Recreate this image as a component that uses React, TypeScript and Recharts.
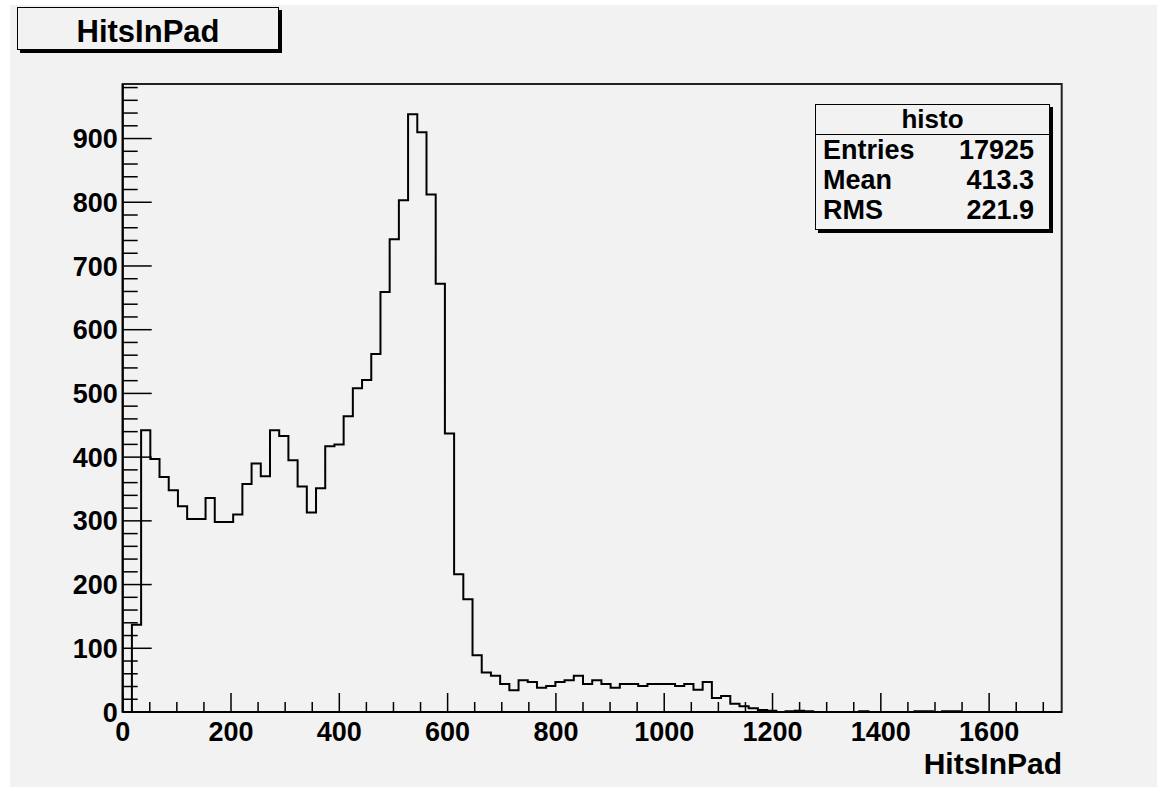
import React from "react";
import { ComposedChart, Line, XAxis, YAxis, ReferenceArea } from "recharts";

// histogram settings
const binWidth = 17;
const xMax = 1734;
const yMax = 985.6;

// counts per bin, bin i covers [i*17, (i+1)*17)
const counts = [
  0, 137, 442, 397, 369, 348, 323, 303, 303, 336,
  298, 298, 310, 358, 390, 370, 442, 433, 395, 354,
  313, 351, 417, 420, 464, 508, 521, 562, 659, 742,
  803, 938, 910, 812, 672, 437, 216, 177, 89, 62,
  57, 44, 34, 50, 47, 38, 41, 47, 50, 57,
  44, 50, 44, 38, 44, 44, 41, 44, 44, 44,
  41, 44, 35, 47, 22, 25, 13, 9, 6, 3,
  2, 0, 1, 2, 1, 0, 0, 0, 0, 0,
  1, 0, 0, 0, 0, 0, 1, 1, 0, 1,
  1, 0, 0, 0, 0, 0, 0, 0, 0, 0,
  0, 0,
];

const xMajor = 200;
const xMinor = 50;
const yMajor = 100;
const yMinor = 20;
const xTicks = Array.from({ length: 35 }, (_, i) => i * xMinor);
const yTicks = Array.from({ length: 50 }, (_, i) => i * yMinor);

const histTitle = "HitsInPad";
const axisTitle = "HitsInPad";
const statsName = "histo";
const statsRows = [
  ["Entries", "17925"],
  ["Mean", "413.3"],
  ["RMS", "221.9"],
];

const font = "'Liberation Sans', Arial, Helvetica, sans-serif";
const bg = "#f2f2f2";

const data = [
  ...counts.map((c, i) => ({ x: i * binWidth, count: c })),
  { x: xMax, count: 0 },
];

function XTick({ x, y, payload }: any) {
  const major = payload.value % xMajor === 0;
  return (
    <g>
      <line x1={x} x2={x} y1={y} y2={y - (major ? 19 : 10)} stroke="#000" strokeWidth={1.5} />
      {major && (
        <text x={x} y={y + 29} textAnchor="middle" fontSize={27} fontWeight={700} fontFamily={font} fill="#000">
          {payload.value}
        </text>
      )}
    </g>
  );
}

function YTick({ x, y, payload }: any) {
  const major = payload.value % yMajor === 0;
  return (
    <g>
      <line x1={x} x2={x + (major ? 29 : 15)} y1={y} y2={y} stroke="#000" strokeWidth={1.5} />
      {major && (
        <text x={x - 5} y={y + 9.6} textAnchor="end" fontSize={27} fontWeight={700} fontFamily={font} fill="#000">
          {payload.value}
        </text>
      )}
    </g>
  );
}

// absolutely placed text, top computed from wanted baseline
function Txt({ children, left, base, size, width, align = "left" }: any) {
  return (
    <div
      style={{
        position: "absolute",
        left,
        width,
        top: base - size * 0.8465,
        fontSize: size,
        lineHeight: `${size}px`,
        fontWeight: 700,
        fontFamily: font,
        textAlign: align,
        whiteSpace: "nowrap",
        color: "#000",
      }}
    >
      {children}
    </div>
  );
}

export default function App() {
  return (
    <div style={{ position: "absolute", left: 0, top: 0, width: 1157, height: 787, background: "#fff", overflow: "hidden" }}>
      <div style={{ position: "absolute", left: 10, top: 5, right: 0, bottom: 0, background: bg }} />

      <div style={{ position: "absolute", left: 0, top: 0 }}>
        <ComposedChart width={1157} height={787} data={data} margin={{ top: 84, right: 95.3, bottom: 35, left: 62.7 }}>
          <XAxis
            dataKey="x"
            type="number"
            domain={[0, xMax]}
            ticks={xTicks}
            interval={0}
            height={40}
            tickSize={0}
            tickMargin={0}
            tickLine={false}
            tick={<XTick />}
            axisLine={{ stroke: "#000", strokeWidth: 2 }}
            allowDataOverflow
          />
          <YAxis
            type="number"
            domain={[0, yMax]}
            ticks={yTicks}
            interval={0}
            width={60}
            tickSize={0}
            tickMargin={0}
            tickLine={false}
            tick={<YTick />}
            axisLine={{ stroke: "#000", strokeWidth: 2 }}
            allowDataOverflow
          />
          <ReferenceArea x1={0} x2={xMax} y1={0} y2={yMax} fill="none" stroke="#222" strokeWidth={2} />
          <Line
            dataKey="count"
            type="stepAfter"
            stroke="#000"
            strokeWidth={2}
            dot={false}
            activeDot={false}
            isAnimationActive={false}
          />
        </ComposedChart>
      </div>

      {/* title box */}
      <div
        style={{
          position: "absolute",
          left: 17,
          top: 7,
          width: 262,
          height: 43,
          boxSizing: "border-box",
          border: "1.5px solid #000",
          boxShadow: "3px 3px 0 #000",
          background: bg,
        }}
      />
      <Txt left={17} width={262} base={42.7} size={31} align="center">
        {histTitle}
      </Txt>

      {/* stats box */}
      <div
        style={{
          position: "absolute",
          left: 815,
          top: 104,
          width: 235,
          height: 126,
          boxSizing: "border-box",
          border: "1.5px solid #000",
          boxShadow: "3px 3px 0 #000",
          background: bg,
        }}
      >
        <div style={{ position: "absolute", left: 0, right: 0, top: 28.8, borderTop: "1.5px solid #000" }} />
      </div>
      <Txt left={815} width={235} base={128.3} size={26} align="center">
        {statsName}
      </Txt>
      {statsRows.map(([k, v], i) => (
        <React.Fragment key={k}>
          <Txt left={823} base={160 + i * 30} size={27}>
            {k}
          </Txt>
          <Txt left={815} width={219} base={160 + i * 30} size={27} align="right">
            {v}
          </Txt>
        </React.Fragment>
      ))}

      <Txt left={0} width={1062} base={774} size={30} align="right">
        {axisTitle}
      </Txt>
    </div>
  );
}
